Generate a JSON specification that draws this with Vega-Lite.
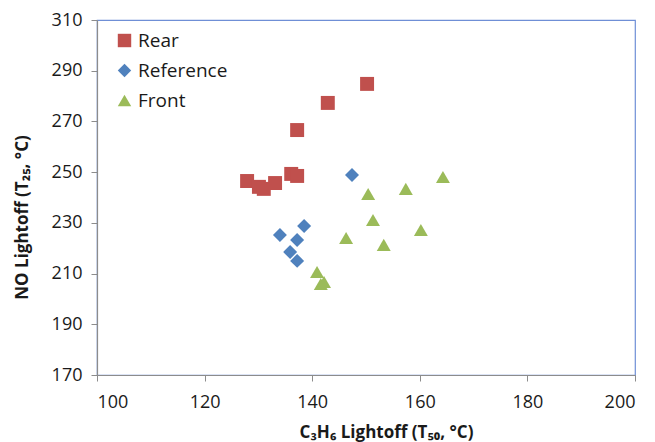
{
  "$schema": "https://vega.github.io/schema/vega-lite/v6.json",
  "width": 538,
  "height": 355,
  "autosize": {"type": "none"},
  "padding": {"left": 97, "top": 20, "right": 20, "bottom": 67},
  "background": "white",
  "config": {
    "font": "Open Sans, DejaVu Sans, sans-serif",
    "view": {"stroke": "#6f8fd6", "strokeWidth": 1.2},
    "axis": {
      "grid": false,
      "domainColor": "#8c8c8c",
      "domainWidth": 1.2,
      "tickColor": "#8c8c8c",
      "tickSize": 6,
      "labelFontSize": 18,
      "labelColor": "#1a1a1a",
      "titleFontSize": 17,
      "titleFontWeight": "bold",
      "titleColor": "#1a1a1a"
    }
  },
  "data": {
    "values": [
      {"c3h6_t50": 127.9, "no_t25": 246.5, "position": "Rear"},
      {"c3h6_t50": 130.1, "no_t25": 244.2, "position": "Rear"},
      {"c3h6_t50": 131.0, "no_t25": 243.4, "position": "Rear"},
      {"c3h6_t50": 133.1, "no_t25": 245.7, "position": "Rear"},
      {"c3h6_t50": 136.1, "no_t25": 249.3, "position": "Rear"},
      {"c3h6_t50": 137.2, "no_t25": 248.5, "position": "Rear"},
      {"c3h6_t50": 137.2, "no_t25": 266.6, "position": "Rear"},
      {"c3h6_t50": 142.9, "no_t25": 277.3, "position": "Rear"},
      {"c3h6_t50": 150.2, "no_t25": 284.8, "position": "Rear"},
      {"c3h6_t50": 134.0, "no_t25": 225.2, "position": "Reference"},
      {"c3h6_t50": 135.9, "no_t25": 218.5, "position": "Reference"},
      {"c3h6_t50": 137.2, "no_t25": 223.2, "position": "Reference"},
      {"c3h6_t50": 137.2, "no_t25": 215.0, "position": "Reference"},
      {"c3h6_t50": 138.5, "no_t25": 228.8, "position": "Reference"},
      {"c3h6_t50": 147.4, "no_t25": 248.9, "position": "Reference"},
      {"c3h6_t50": 140.9, "no_t25": 210.6, "position": "Front"},
      {"c3h6_t50": 141.6, "no_t25": 205.9, "position": "Front"},
      {"c3h6_t50": 142.2, "no_t25": 206.7, "position": "Front"},
      {"c3h6_t50": 146.3, "no_t25": 224.0, "position": "Front"},
      {"c3h6_t50": 150.4, "no_t25": 241.4, "position": "Front"},
      {"c3h6_t50": 151.3, "no_t25": 231.1, "position": "Front"},
      {"c3h6_t50": 153.3, "no_t25": 221.3, "position": "Front"},
      {"c3h6_t50": 157.4, "no_t25": 243.4, "position": "Front"},
      {"c3h6_t50": 160.2, "no_t25": 227.2, "position": "Front"},
      {"c3h6_t50": 164.3, "no_t25": 248.1, "position": "Front"}
    ]
  },
  "mark": {"type": "point", "filled": true, "opacity": 1, "size": 195},
  "encoding": {
    "x": {
      "field": "c3h6_t50",
      "type": "quantitative",
      "scale": {"domain": [100, 200], "nice": false, "zero": false},
      "axis": {
        "values": [100, 120, 140, 160, 180, 200],
        "labelPadding": 12,
        "title": "C₃H₆ Lightoff (T₅₀, °C)",
        "titleX": 289,
        "titleY": 57,
        "titleBaseline": "middle"
      }
    },
    "y": {
      "field": "no_t25",
      "type": "quantitative",
      "scale": {"domain": [170, 310], "nice": false, "zero": false},
      "axis": {
        "values": [170, 190, 210, 230, 250, 270, 290, 310],
        "labelPadding": 9,
        "title": "NO Lightoff (T₂₅, °C)",
        "titleX": -75,
        "titleY": 197,
        "titleAngle": -90,
        "titleAlign": "center",
        "titleBaseline": "middle"
      }
    },
    "color": {
      "field": "position",
      "type": "nominal",
      "scale": {
        "domain": ["Rear", "Reference", "Front"],
        "range": ["#c0504d", "#4f81bd", "#9bbb59"]
      },
      "legend": {
        "title": null,
        "orient": "none",
        "legendX": 18,
        "legendY": 11,
        "padding": 0,
        "labelFontSize": 19,
        "labelColor": "#1a1a1a",
        "symbolSize": 180,
        "rowPadding": 10,
        "labelOffset": 4
      }
    },
    "shape": {
      "field": "position",
      "type": "nominal",
      "scale": {
        "domain": ["Rear", "Reference", "Front"],
        "range": ["square", "diamond", "triangle-up"]
      }
    }
  }
}
